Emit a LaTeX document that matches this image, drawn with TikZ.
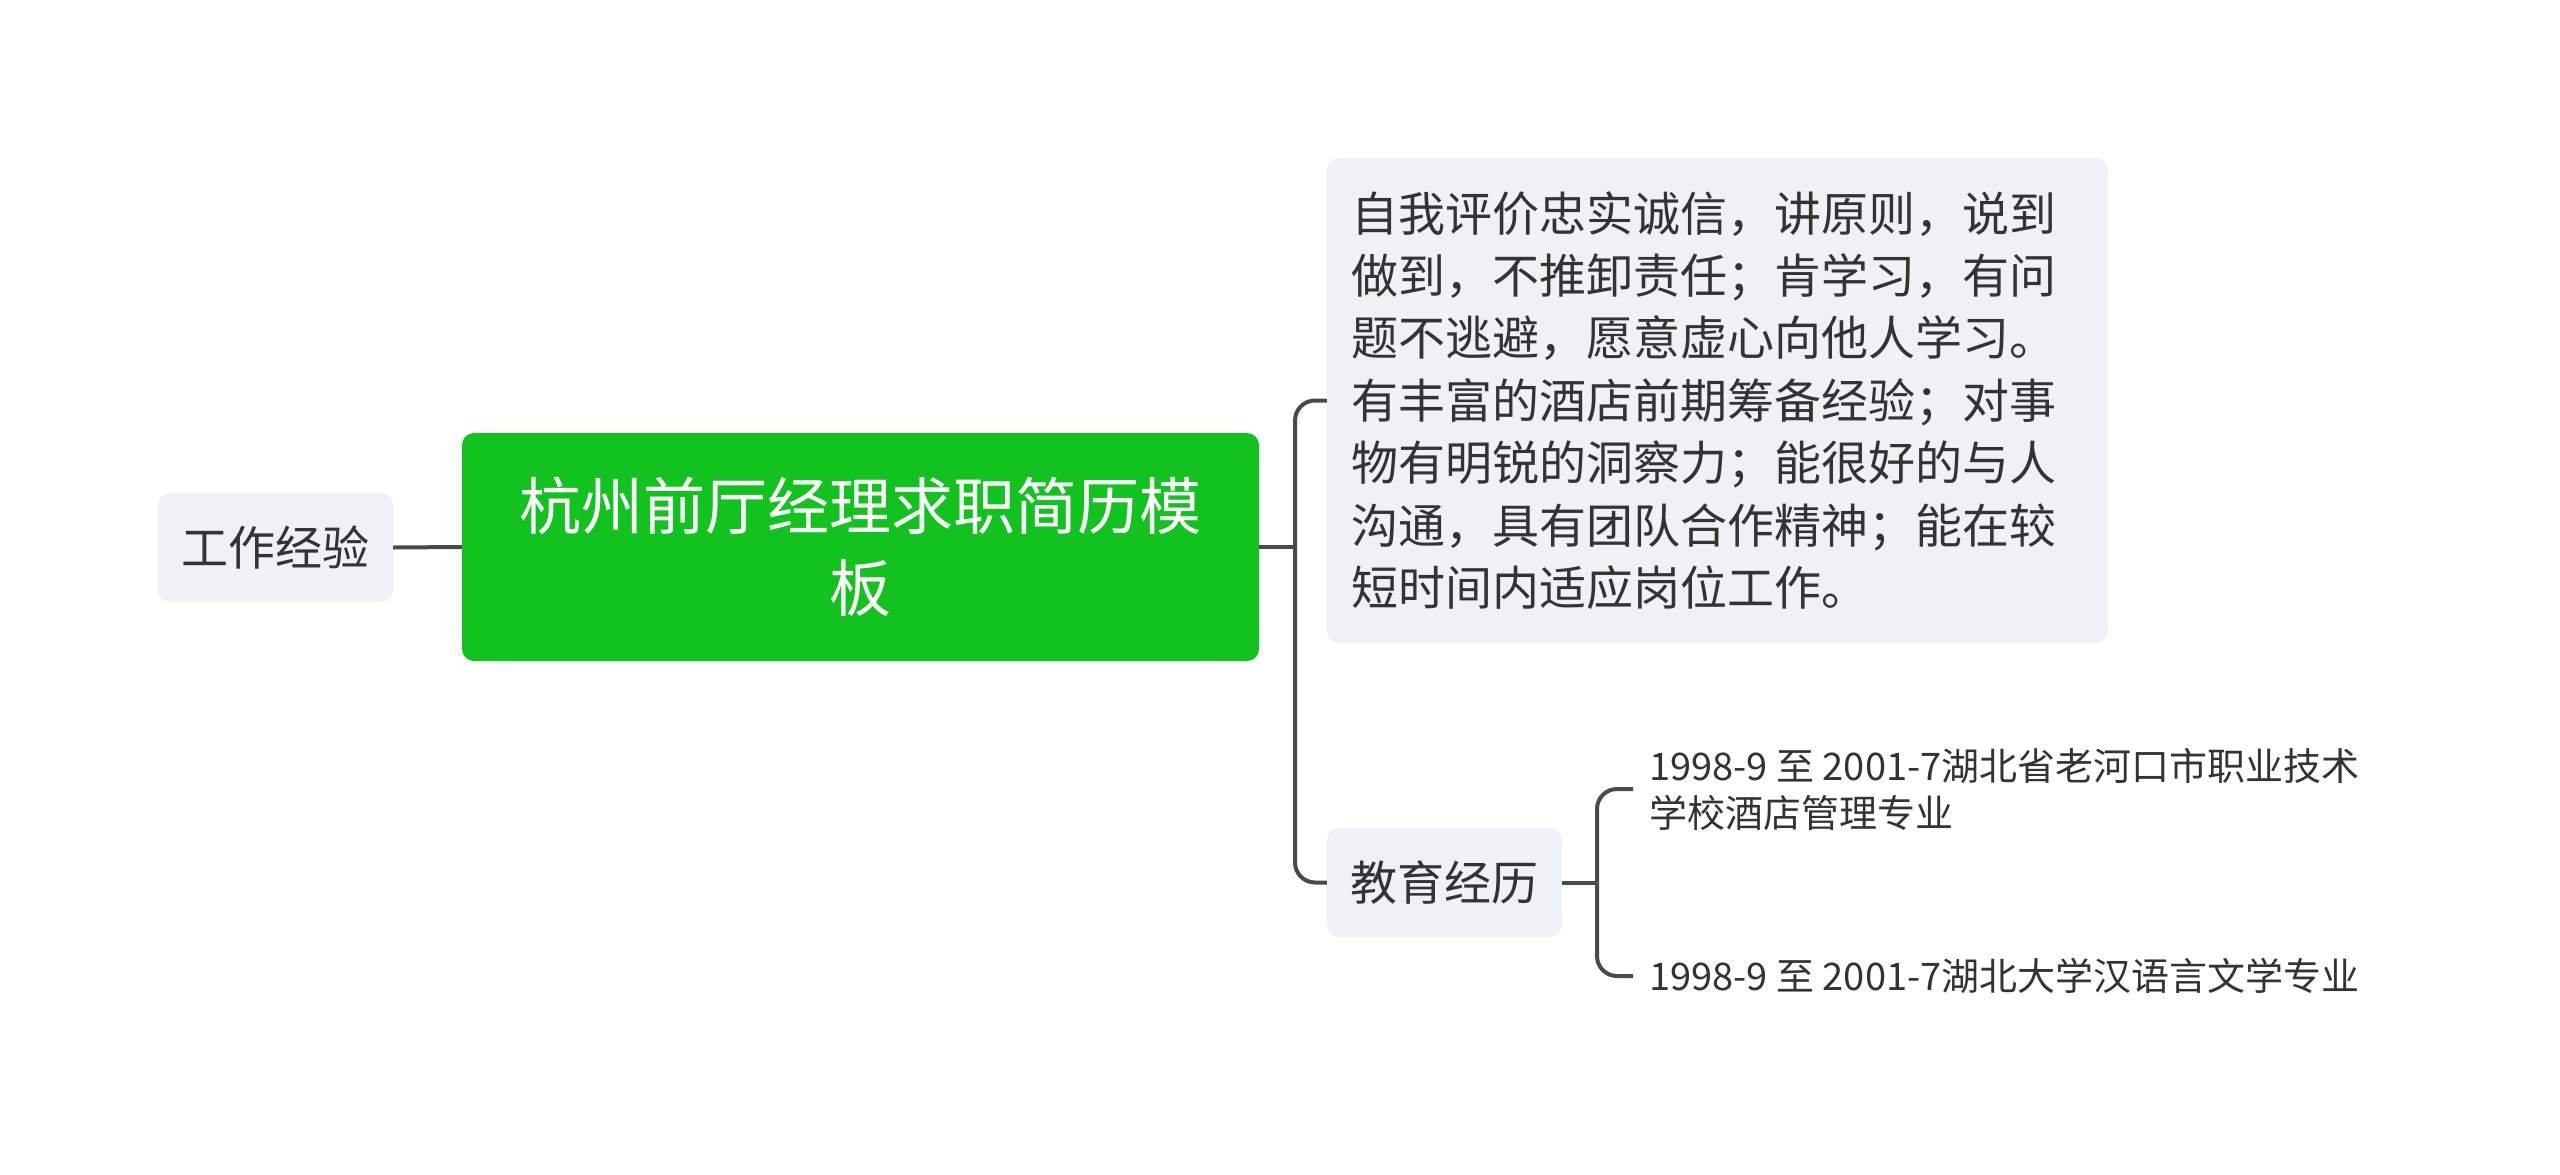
\documentclass[tikz,border=0pt]{standalone}
\usepackage{fontspec}
\setmainfont{Noto Sans CJK SC}
\definecolor{rootgreen}{HTML}{12C21F}
\definecolor{boxgray}{HTML}{EEF1F5}
\definecolor{txt}{HTML}{333333}
\definecolor{linec}{HTML}{4A4A4A}
\begin{document}
\begin{tikzpicture}[x=1pt,y=-1pt,
  rootbox/.style={fill=rootgreen, rounded corners=12pt, draw=none, text=white,
    minimum width=797pt, minimum height=228pt, align=center, inner sep=0pt,
    font=\fontsize{62}{82}\selectfont},
  graybox/.style={fill=boxgray, rounded corners=12pt, draw=none, text=txt,
    inner sep=0pt, font=\fontsize{47}{62.4}\selectfont},
  leaftext/.style={text=txt, anchor=west, inner xsep=16pt, inner ysep=0pt,
    align=left, font=\fontsize{38}{47}\selectfont},
  conn/.style={draw=linec, line width=4pt, rounded corners=20pt}]
\useasboundingbox (0,0) rectangle (2560,1175);
\node[rootbox] (root) at (860.5,547) {杭州前厅经理求职简历模\\板};
\node[graybox, minimum width=235pt, minimum height=109pt] (work) at (275.5,547.5) {工作经验};
\node[graybox, text width=733pt, inner xsep=24pt, minimum height=485pt, align=left] (self) at (1717.5,400.5)
  {自我评价忠实诚信，讲原则，说到\\做到，不推卸责任；肯学习，有问\\题不逃避，愿意虚心向他人学习。\\有丰富的酒店前期筹备经验；对事\\物有明锐的洞察力；能很好的与人\\沟通，具有团队合作精神；能在较\\短时间内适应岗位工作。};
\node[graybox, minimum width=235pt, minimum height=109pt] (edu) at (1444.5,882.5) {教育经历};
\node[leaftext] (leafa) at (1633,789) {1998-9 至 2001-7湖北省老河口市职业技术\\学校酒店管理专业};
\node[leaftext] (leafb) at (1633,976) {1998-9 至 2001-7湖北大学汉语言文学专业};
\coordinate (sp) at (1295,547);
\coordinate (esp) at (1597,882.5);
\draw[conn] (work.east) -- (root.west);
\draw[conn] (root.east) -- (sp);
\draw[conn] (sp) |- (self.west);
\draw[conn] (sp) |- (edu.west);
\draw[conn] (edu.east) -- (esp);
\draw[conn] (esp) |- (leafa.west);
\draw[conn] (esp) |- (leafb.west);
\end{tikzpicture}
\end{document}
